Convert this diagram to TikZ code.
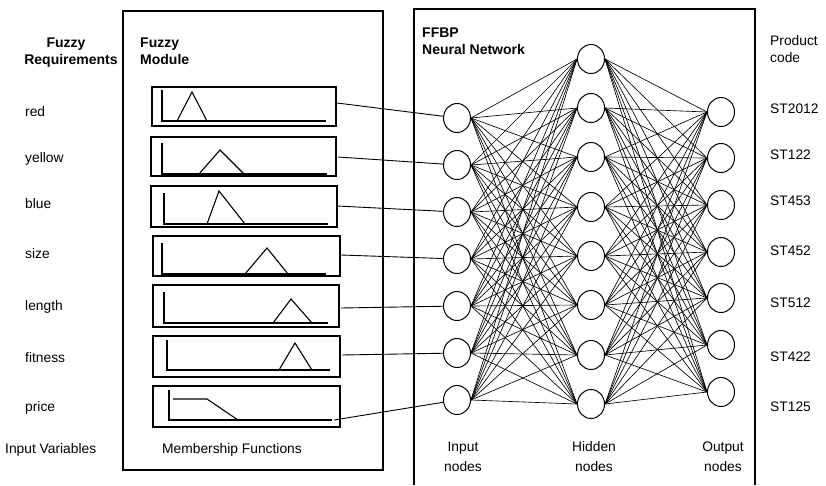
\documentclass[tikz,border=0pt]{standalone}
\usepackage{fontspec}
\setmainfont{Liberation Sans}
\usetikzlibrary{shapes.geometric}
\begin{document}
\begin{tikzpicture}[x=1pt,y=-1pt,
  neuron/.style={draw,ellipse,minimum width=27pt,minimum height=29pt,inner sep=0pt,line width=1pt},
  link/.style={line width=0.65pt},
  frame/.style={line width=1.1pt},
  mfbox/.style={draw,line width=1.3pt},
  mfline/.style={line width=1.1pt},
  lbl/.style={font=\fontsize{13.8}{16}\selectfont,inner sep=0pt},
  blbl/.style={font=\fontsize{14}{16}\selectfont\bfseries,inner sep=0pt}]
\useasboundingbox (0,0) rectangle (826,485);
% frames
\draw[frame] (123,11) rectangle (383,470);
\draw[frame] (414,485) -- (414,9) -- (755,9) -- (755,485);
% headers
\node[blbl,anchor=base] (h1a) at (66,47) {Fuzzy};
\node[blbl,anchor=base] (h1b) at (71,64) {Requirements};
\node[blbl,anchor=base west] (h2a) at (140,47) {Fuzzy};
\node[blbl,anchor=base west] (h2b) at (140,64) {Module};
\node[blbl,anchor=base west] (h3a) at (422,37) {FFBP};
\node[blbl,anchor=base west] (h3b) at (422,54) {Neural Network};
\node[lbl,anchor=base west] (h4a) at (770,45) {Product};
\node[lbl,anchor=base west] (h4b) at (770,62) {code};
% left labels
\foreach \t/\y [count=\i] in {red/116,yellow/162,blue/208,size/258,length/310,fitness/362,price/411}
  \node[lbl,anchor=base west] (v\i) at (25,\y) {\t};
\node[lbl,anchor=base west] (iv) at (5,453) {Input Variables};
\node[lbl,anchor=base west] (mfl) at (162,453) {Membership Functions};
% right labels
\foreach \t/\y [count=\i] in {ST2012/113,ST122/159,ST453/205,ST452/255,ST512/307,ST422/361,ST125/411}
  \node[lbl,anchor=base west] (p\i) at (770,\y) {\t};
% bottom labels
\node[lbl,anchor=base] (l1a) at (463,451) {Input};
\node[lbl,anchor=base] (l1b) at (463,471) {nodes};
\node[lbl,anchor=base] (l2a) at (594,451) {Hidden};
\node[lbl,anchor=base] (l2b) at (594,471) {nodes};
\node[lbl,anchor=base] (l3a) at (723,451) {Output};
\node[lbl,anchor=base] (l3b) at (723,471) {nodes};
% membership function boxes
\draw[mfbox] (152,87) rectangle (336,126);
\draw[mfline] (162,90) -- (162,121) -- (326,121);
\draw[mfline] (177,121) -- (192,92) -- (207,121);
\draw[mfbox] (151,137) rectangle (336,176);
\draw[mfline] (162,143) -- (162,174) -- (327,174);
\draw[mfline] (199,174) -- (220,150) -- (244,174);
\draw[mfbox] (151,186) rectangle (337,227);
\draw[mfline] (164,193) -- (164,224) -- (328,224);
\draw[mfline] (207,224) -- (219,191) -- (245,224);
\draw[mfbox] (153,236) rectangle (340,276);
\draw[mfline] (162,243) -- (162,274) -- (326,274);
\draw[mfline] (245,274) -- (267,248) -- (288,274);
\draw[mfbox] (153,285) rectangle (339,327);
\draw[mfline] (164,292) -- (164,323) -- (328,323);
\draw[mfline] (273,323) -- (291,299) -- (312,323);
\draw[mfbox] (153,336) rectangle (340,377);
\draw[mfline] (167,340) -- (167,370) -- (330,370);
\draw[mfline] (279,370) -- (295,343) -- (312,370);
\draw[mfbox] (153,386) rectangle (340,427);
\draw[mfline] (169,390) -- (169,420) -- (332,420);
\draw[mfline] (173,399) -- (207,399) -- (238,420);
% connector start points
\coordinate (s1) at (337,103);
\coordinate (s2) at (338,157);
\coordinate (s3) at (337,206);
\coordinate (s4) at (341,255);
\coordinate (s5) at (341,308);
\coordinate (s6) at (342,355);
\coordinate (s7) at (334,420);
% neurons
\foreach \i/\y in {1/118,2/165,3/212,4/259,5/306,6/353,7/400}
  \node[neuron] (in\i) at (457,\y) {};
\foreach \i/\y in {1/59,2/108,3/157,4/207,5/256,6/305,7/355,8/404}
  \node[neuron] (h\i) at (591,\y) {};
\foreach \i/\y in {1/112,2/158,3/205,4/252,5/298,6/345,7/392}
  \node[neuron] (out\i) at (721,\y) {};
% connectors
\foreach \i in {1,...,7}
  \draw[link,line width=0.9pt] (s\i) -- (in\i);
\foreach \i in {1,...,7}
  \foreach \j in {1,...,8}
    \draw[link] (in\i.east) -- (h\j.west);
\foreach \j in {1,...,8}
  \foreach \k in {1,...,7}
    \draw[link] (h\j.east) -- (out\k.west);
\end{tikzpicture}
\end{document}
